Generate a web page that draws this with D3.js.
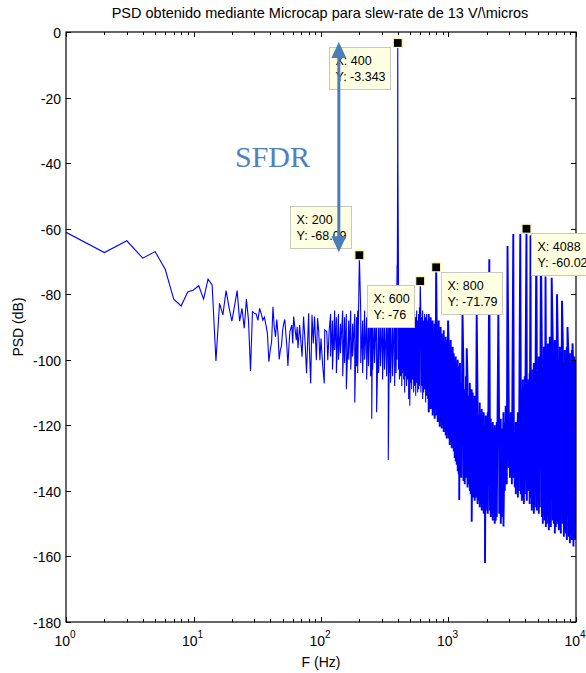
<!DOCTYPE html>
<html><head><meta charset="utf-8">
<script src="https://cdn.jsdelivr.net/npm/d3@7"></script>
<style>
body{margin:0;background:#fff}
svg{display:block}
</style>
</head><body>
<svg id="chart" width="586" height="673"></svg>
<script>
// ---------- DATA ----------
const titleText = "PSD obtenido mediante Microcap para slew-rate de 13 V/\\micros";
const xLabel = "F (Hz)";
const yLabel = "PSD (dB)";

// low-frequency part of the spectrum (individual bins)
const lowHz = [1,2,3,4,5,6,7,8,9,10,11,12,13,14,15,16,17,18,19,20,21,22,23,24,25,26,27,28,29,30,
  31,32,33,34,35,36,37,38,39,40,41,42,43,44,45,46,47,48,49,50,51,52,53,54,55,56,57,
  59,60,61,64,65,66,68,71,73,75,77,80,81,83,85,87,89,92,94,96,98,100,103,106,107,111,113,116];
const lowDb = [-61.1,-67.3,-63.7,-69.0,-67.0,-72.4,-81.5,-83.6,-79.3,-78.7,-77.4,-81.5,-75.4,-77.2,-100.4,-82.8,-86.3,-78.9,-84,-88.2,
  -83.5,-78.9,-88.2,-84.3,-90.4,-81.5,-87.9,-103.4,-85.3,-85.8,-86,-88,-84.3,-86,-87.9,-87,-89.4,-92,-100.6,-97,
  -94.5,-83.8,-90,-93,-87.7,-92,-99.9,-97,-95.8,-91,-89,-87.7,-92,-96,-101.9,-96,-91.4,
  -89.4,-95.0,-86.8,-94.0,-89.9,-96.5,-89.4,-99.1,-86.8,-94.5,-104.1,-85.8,-96.0,-107.2,-86.3,-95.0,-86.8,-100.1,-87.3,-91.4,-100.1,-93.5,-101.6,-107.2,-90.9,-91.4,-100.1,-90.9];

// dense noise floor: for each frequency, the upper and lower excursion of the trace
const bandHz = [119,123,128,132,137,142,148,153,158,165,171,177,184,190,194,205,212,220,228,236,245,250,254,263,273,283,293,304,315,327,337,345,351,364,378,388,395,
  405,412,421,430,437,445,453,462,469,478,487,497,505,514,523,533,543,553,563,573,583,592,607,617,627,638,650,662,674,687,699,712,725,738,751,765,779,792,
  808,823,838,853,868,884,900,917,934,951,968,980,1004,1022,1041,1060,1079,1099,1119,1139,1160,1181,1203,1214,1230,1260,1310,1341,1370,1410,1441,1470,1494,1520,
  1549,1578,1606,1635,1690,1727,1758,1790,1823,1856,1890,1933,1960,1996,2032,2110,2145,2184,2224,2264,2306,2348,2391,2500,2570,2620,2698,2763,2810,2865,
  2970,3030,3080,3140,3250,3311,3372,3433,3500,3559,3690,3760,3826,3900,3967,4113,4190,4264,4330,4421,4500,4584,4670,4753,4928,5020,5109,5200,5400,5492,
  5600,5695,5800,5904,6010,6122,6230,6347,6581,6700,6823,6950,7200,7335,7470,7605,7885,8030,8176,8330,8477,8789,8950,9113,9280,9550,9700,9850,10000];
const bandHi = [-86,-88,-85,-87,-86,-89,-85,-87,-86,-88,-85,-89,-86,-87,-85,-86,-88,-85,-87,-86,-84,-88,-86,-87,-85,-88,-86,-87,-85,-88,-86,-87,-85,-86,-84,-80,-71,
  -72,-82,-86,-85,-87,-86,-88,-85,-87,-86,-84,-88,-86,-87,-85,-88,-86,-87,-85,-88,-86,-84,-86,-87,-85,-88,-86,-87,-86,-88,-86,-91,-87,-92,-88,-93,-89,-88,
  -89,-93,-88,-95,-90,-92,-96,-91,-95,-93,-98,-94,-95,-99,-94,-100,-96,-98,-103,-99,-104,-100,-102,-106,-101,-107,-103,-109,-105,-106,-111,-107,-112,-109,
  -110,-115,-111,-116,-112,-117,-113,-118,-115,-119,-116,-120,-117,-121,-116,-122,-118,-123,-119,-124,-120,-122,-119,-124,-118,-121,-116,-119,-114,-118,
  -115,-119,-116,-121,-118,-123,-119,-121,-116,-119,-110,-113,-106,-110,-105,-111,-106,-110,-104,-108,-103,-106,-101,-105,-100,-104,-99,-103,-98,-102,
  -96,-100,-94,-99,-95,-98,-93,-97,-95,-99,-94,-98,-95,-100,-96,-99,-95,-101,-97,-100,-96,-102,-98,-101,-97,-103,-99,-102,-100];
const bandLo = [-99,-103,-97,-104,-100,-98,-105,-101,-109,-100,-103,-99,-113,-102,-104,-101,-104,-100,-106,-102,-105,-118,-103,-101,-116,-104,-102,-106,-103,-105,-130.6,-104,-107,-105,-108,-104,-100,
  -103,-106,-105,-108,-104,-106,-110,-105,-108,-106,-112,-114,-107,-109,-106,-110,-108,-111,-107,-110,-109,-108,-110,-108,-112,-110,-109,-113,-111,-112,-116,-113,-115,-114,-117,-116,-118,-115,
  -117,-119,-118,-120.4,-119,-121,-120,-122,-121,-123,-124,-122,-124,-126,-125,-127,-126,-128,-130,-131,-132,-134,-135,-142.8,-134,-136,-137,-138,-136,-139,-138,-140,-141,-149.4,
  -141,-142,-143,-142,-144,-143,-145,-144,-146,-145,-147,-162,-146,-145,-147,-146,-148,-147,-149,-148,-150,-149,-148,-147,-150,-148,-150.9,-140,-135,-138,
  -133,-136,-134,-138,-136,-139,-141,-137,-142,-140,-141,-143,-142,-144,-141,-143,-140,-139,-144,-142,-146,-144,-147,-145,-146,-143,-147,-145,-148,-150,
  -147,-149,-151,-150,-148,-152,-150,-151,-149,-150,-153,-151,-150,-152,-151,-153,-150,-154,-152,-153,-155,-154,-156,-153,-155,-157,-154,-155,-150];

// harmonic / spurious spikes
const spikeHz = [200,399,400,401,600,800,992,1288,1390,1664,2089,2460,2903,3222,3656,4088,4398,4886,5310,5767,6446,7097,7767,8577,9389];
const spikeDb = [-68.09,-40,-3.343,-40,-76,-71.79,-88,-85.5,-96.5,-85.5,-69.3,-86,-65.3,-61.6,-61.6,-60.02,-62,-63,-66,-74.6,-75,-80,-82,-90,-95];

// data tips shown on the figure
const tipHz = [400,200,600,800,4088];
const tipDb = [-3.343,-68.09,-76,-71.79,-60.02];
const tipLabelX = ["X: 400","X: 200","X: 600","X: 800","X: 4088"];
const tipLabelY = ["Y: -3.343","Y: -68.09","Y: -76","Y: -71.79","Y: -60.02"];

const yTicks = [0,-20,-40,-60,-80,-100,-120,-140,-160,-180];
const xDecades = [1,10,100,1000,10000];
const xExponents = ["0","1","2","3","4"];

// SFDR annotation
const sfdrText = "SFDR";
const sfdrArrowHz = 138;

// ---------- LAYOUT ----------
const FONT = "'Liberation Sans', Arial, Helvetica, sans-serif";
const L = 66, R = 576, T = 32, B = 622;
const svg = d3.select("#chart");
const x = d3.scaleLog().domain([1,10000]).range([L,R]);
const y = d3.scaleLinear().domain([-180,0]).range([B,T]);

// build series
let pts = [];
lowHz.forEach((f,i)=>pts.push({f, v: lowDb[i], o: 0}));
bandHz.forEach((f,i)=>{ pts.push({f, v: bandHi[i], o: 0}); pts.push({f, v: bandLo[i], o: 1}); });
spikeHz.forEach((f,i)=>pts.push({f, v: spikeDb[i], o: 0}));
pts = pts.map((d,i)=>({...d, i})).sort((a,b)=> a.f-b.f || a.o-b.o || a.i-b.i);

svg.append("defs").append("clipPath").attr("id","plotclip")
  .append("rect").attr("x",L).attr("y",T).attr("width",R-L).attr("height",B-T);

const line = d3.line().x(d=>x(d.f)).y(d=>y(d.v));
const split = 700;
const partA = pts.filter(d=>d.f<=split);
const partB = pts.filter(d=>d.f>=partA[partA.length-1].f);
svg.append("path").datum(partA)
  .attr("clip-path","url(#plotclip)")
  .attr("d", line).attr("fill","none").attr("stroke","#0000ff").attr("stroke-width",1.1);
svg.append("path").datum(partB)
  .attr("clip-path","url(#plotclip)")
  .attr("d", line).attr("fill","none").attr("stroke","#0000ff").attr("stroke-width",1.9);

// axes box
const axG = svg.append("g").style("font-family",FONT);
axG.append("rect").attr("x",L).attr("y",T).attr("width",R-L).attr("height",B-T)
  .attr("fill","none").attr("stroke","#000").attr("stroke-width",1.2);

// y ticks
yTicks.forEach(v=>{
  const yy = Math.round(y(v))+0.5;
  axG.append("line").attr("x1",L).attr("x2",L+5).attr("y1",yy).attr("y2",yy).attr("stroke","#000");
  axG.append("line").attr("x1",R-5).attr("x2",R).attr("y1",yy).attr("y2",yy).attr("stroke","#000");
  axG.append("text").attr("x",L-5).attr("y",yy).attr("dy","0.36em").attr("text-anchor","end")
    .attr("font-size",14).text(v);
});
// x ticks (log, with minors)
const minorTicks = [];
for (let d=1; d<10000; d*=10) for (let k=2;k<=9;k++) minorTicks.push(d*k);
xDecades.forEach(f=>{
  const xx = Math.round(x(f))+0.5;
  axG.append("line").attr("x1",xx).attr("x2",xx).attr("y1",B).attr("y2",B-5).attr("stroke","#000");
  axG.append("line").attr("x1",xx).attr("x2",xx).attr("y1",T).attr("y2",T+5).attr("stroke","#000");
});
minorTicks.forEach(f=>{
  const xx = Math.round(x(f))+0.5;
  axG.append("line").attr("x1",xx).attr("x2",xx).attr("y1",B).attr("y2",B-3).attr("stroke","#000");
  axG.append("line").attr("x1",xx).attr("x2",xx).attr("y1",T).attr("y2",T+3).attr("stroke","#000");
});
xDecades.forEach((f,i)=>{
  const t = axG.append("text").attr("x",x(f)-1).attr("y",646).attr("text-anchor","middle").attr("font-size",14);
  t.append("tspan").text("10");
  t.append("tspan").attr("dy",-8).attr("font-size",10).text(xExponents[i]);
});

// labels
const lab = svg.append("g").style("font-family",FONT);
lab.append("text").attr("x",(L+R)/2-1).attr("y",18).attr("text-anchor","middle").attr("font-size",14.5).text(titleText);
lab.append("text").attr("x",(L+R)/2).attr("y",667).attr("text-anchor","middle").attr("font-size",14).text(xLabel);
lab.append("text").attr("transform",`translate(23,${(T+B)/2}) rotate(-90)`).attr("text-anchor","middle").attr("font-size",14).text(yLabel);

// data tips
const tipOffsets = [[-69,4],[-69,-49],[-53,4],[5,5],[4.5,4]];
const tipG = svg.append("g").style("font-family",FONT);
tipHz.forEach((f,i)=>{
  const px = x(f), py = y(tipDb[i]);
  const g = tipG.append("g");
  const bx = Math.round(px + tipOffsets[i][0])+0.5, by = Math.round(py + tipOffsets[i][1])+0.5;
  const rect = g.append("rect").attr("x",bx).attr("y",by).attr("height",42)
    .attr("fill","#ffffe1").attr("stroke","#c8c8c0").attr("stroke-width",1);
  const t1 = g.append("text").attr("x",bx+6).attr("y",by+17).attr("font-size",12.5).text(tipLabelX[i]);
  const t2 = g.append("text").attr("x",bx+6).attr("y",by+33).attr("font-size",12.5).text(tipLabelY[i]);
  const w = Math.max(t1.node().getComputedTextLength(), t2.node().getComputedTextLength()) + 11;
  rect.attr("width", Math.round(w));
  tipG.append("rect").attr("x",px-4.5).attr("y",py-4.5).attr("width",9).attr("height",9)
    .attr("fill","#000").attr("stroke","#fff4b0").attr("stroke-width",1.2);
});

// SFDR arrow (double headed) between the 400 Hz peak and the 200 Hz harmonic
const ax = x(sfdrArrowHz);
const yTop = y(tipDb[0]) - 1, yBot = y(tipDb[1]) - 3;
const headL = 16, headW = 7.5, col = "#4a7ebb";
svg.append("line").attr("x1",ax).attr("x2",ax).attr("y1",yTop+headL-2).attr("y2",yBot-headL+2)
  .attr("stroke",col).attr("stroke-width",3);
svg.append("path").attr("d",`M${ax},${yTop} L${ax-headW},${yTop+headL} L${ax+headW},${yTop+headL} Z`).attr("fill",col);
svg.append("path").attr("d",`M${ax},${yBot} L${ax-headW},${yBot-headL} L${ax+headW},${yBot-headL} Z`).attr("fill",col);

svg.append("text").attr("x",235).attr("y",167)
  .style("font-family","'Liberation Serif','Times New Roman',serif")
  .attr("font-size",30).attr("fill","#4f81bd").text(sfdrText);
</script>
</body></html>
